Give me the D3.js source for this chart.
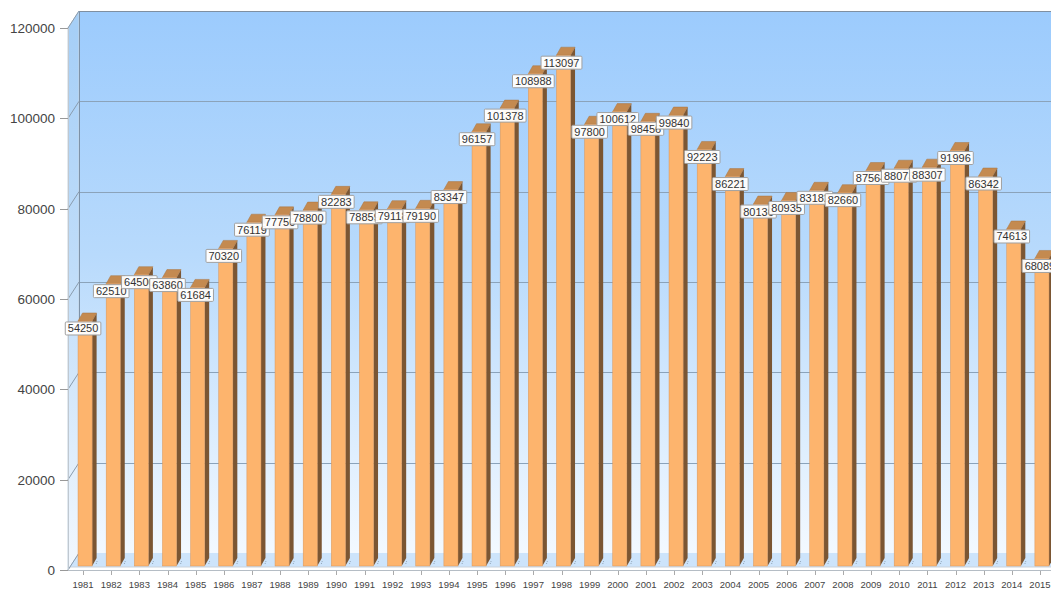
<!DOCTYPE html>
<html>
<head>
<meta charset="utf-8">
<script src="https://cdn.jsdelivr.net/npm/d3@7"></script>
<style>
  html, body { margin: 0; padding: 0; background: #ffffff; }
  svg { display: block; font-family: "Liberation Sans", Arial, sans-serif; }
</style>
</head>
<body>
<svg id="chart" width="1051" height="590"></svg>
<script>
// Yearly values, 1981–2015
const years = ["1981","1982","1983","1984","1985","1986","1987","1988","1989","1990",
  "1991","1992","1993","1994","1995","1996","1997","1998","1999","2000",
  "2001","2002","2003","2004","2005","2006","2007","2008","2009","2010",
  "2011","2012","2013","2014","2015"];
const values = [54250, 62510, 64500, 63860, 61684, 70320, 76119, 77750, 78800, 82283,
  78859, 79118, 79190, 83347, 96157, 101378, 108988, 113097, 97800, 100612,
  98456, 99840, 92223, 86221, 80136, 80935, 83182, 82660, 87564, 88073,
  88307, 91996, 86342, 74613, 68089];
const yTicks = [0, 20000, 40000, 60000, 80000, 100000, 120000];

const svg = d3.select("#chart");

// Front plane of the plot and the oblique depth of the 3D box
const plotLeft = 68, plotRight = 1054, plotTop = 28, plotBottom = 570;
const depthX = 11, depthY = -17;          // full depth of the chart box
const barShiftX = 2, barShiftY = -4;       // bars sit a little behind the front plane
const barDX = 4.5, barDY = -8;             // depth of each bar

const x = d3.scaleBand().domain(years).range([plotLeft + 1, plotRight]).paddingInner(0.5).paddingOuter(0.25);
const y = d3.scaleLinear().domain([0, 120000]).range([plotBottom, plotTop]);

// Gradients for the walls
const defs = svg.append("defs");
const wallGrad = defs.append("linearGradient").attr("id", "wall")
  .attr("gradientUnits", "userSpaceOnUse")
  .attr("x1", 0).attr("y1", plotTop + depthY).attr("x2", 0).attr("y2", plotBottom + depthY);
wallGrad.append("stop").attr("offset", 0).attr("stop-color", "#9ccbfd");
wallGrad.append("stop").attr("offset", 0.45).attr("stop-color", "#b8dafc");
wallGrad.append("stop").attr("offset", 1).attr("stop-color", "#f3f9ff");

const sideGrad = defs.append("linearGradient").attr("id", "side")
  .attr("gradientUnits", "userSpaceOnUse")
  .attr("x1", 0).attr("y1", plotTop).attr("x2", 0).attr("y2", plotBottom);
sideGrad.append("stop").attr("offset", 0).attr("stop-color", "#a6cff7");
sideGrad.append("stop").attr("offset", 0.45).attr("stop-color", "#c0ddf9");
sideGrad.append("stop").attr("offset", 1).attr("stop-color", "#f3f8fe");

const bx = plotLeft + depthX, by0 = y(0) + depthY, byTop = y(120000) + depthY;

// Back wall
svg.append("rect")
  .attr("x", bx).attr("y", byTop)
  .attr("width", 1100 - bx).attr("height", by0 - byTop)
  .attr("fill", "url(#wall)");

// Left side wall
svg.append("path")
  .attr("d", `M${plotLeft},${y(120000)}L${bx},${byTop}L${bx},${by0}L${plotLeft},${y(0)}Z`)
  .attr("fill", "url(#side)")
  .attr("stroke", "#c3d2e0").attr("stroke-width", 1);

// Floor
svg.append("path")
  .attr("d", `M${plotLeft + 2},${y(0) - 3}L${bx},${by0}L${1100},${by0}L${1100},${y(0) - 3}Z`)
  .attr("fill", "#cde4fb");
svg.append("line")
  .attr("x1", plotLeft + 2).attr("x2", 1100)
  .attr("y1", y(0) - 3).attr("y2", y(0) - 3)
  .attr("stroke", "#c9d3dd").attr("stroke-width", 1);

// Gridlines on the back wall and the side wall
const grid = svg.append("g");
yTicks.forEach(v => {
  const yy = Math.round(y(v) + depthY) + 0.5;
  if (v > 0) {
    grid.append("line")
      .attr("x1", bx).attr("x2", 1100).attr("y1", yy).attr("y2", yy)
      .attr("stroke", v === 120000 ? "#7f8fa1" : "#8ba3ba").attr("stroke-width", 1);
  }
  grid.append("line")
    .attr("x1", plotLeft).attr("y1", y(v)).attr("x2", bx).attr("y2", y(v) + depthY)
    .attr("stroke", "#8a9cae").attr("stroke-width", 1);
});
grid.append("line")
  .attr("x1", bx + 0.5).attr("x2", bx + 0.5).attr("y1", byTop).attr("y2", by0)
  .attr("stroke", "#7d92a8").attr("stroke-width", 1);

// Small dots on the floor between bars
const floorDots = svg.append("g");
years.forEach(yr => {
  const c = x(yr) + x.bandwidth() / 2 + x.step() / 2;
  floorDots.append("line")
    .attr("x1", c - 1).attr("y1", y(0) - 6).attr("x2", c).attr("y2", y(0) - 9)
    .attr("stroke", "#8fa3b7").attr("stroke-width", 1).attr("stroke-dasharray", "1,1");
});

// Y axis: left edge, ticks and labels
svg.append("line")
  .attr("x1", plotLeft + 0.5).attr("x2", plotLeft + 0.5).attr("y1", y(120000)).attr("y2", y(0))
  .attr("stroke", "#c0c8d0").attr("stroke-width", 1);
const yAxis = svg.append("g");
yTicks.forEach(v => {
  const yy = Math.round(y(v)) + 0.5;
  yAxis.append("line").attr("x1", plotLeft - 8).attr("x2", plotLeft).attr("y1", yy).attr("y2", yy)
    .attr("stroke", "#999").attr("stroke-width", 1);
  yAxis.append("text")
    .attr("x", 55).attr("y", yy + 4.5)
    .attr("text-anchor", "end")
    .attr("font-size", 13.5).attr("fill", "#444")
    .text(d3.format("d")(v));
});

// X axis line, ticks and year labels
svg.append("line")
  .attr("x1", plotLeft).attr("x2", 1051).attr("y1", plotBottom + 0.5).attr("y2", plotBottom + 0.5)
  .attr("stroke", "#b5bdc5").attr("stroke-width", 1);
const xAxis = svg.append("g");
years.forEach(yr => {
  const c = x(yr) + x.bandwidth() / 2;
  xAxis.append("line").attr("x1", Math.round(c) + 0.5).attr("x2", Math.round(c) + 0.5)
    .attr("y1", plotBottom + 1).attr("y2", plotBottom + 5)
    .attr("stroke", "#aaa").attr("stroke-width", 1);
  xAxis.append("text")
    .attr("x", c).attr("y", 588)
    .attr("text-anchor", "middle")
    .attr("font-size", 9.5).attr("fill", "#444")
    .text(yr);
});

// 3D bars: front, right side and top faces
const bars = svg.append("g");
years.forEach((yr, i) => {
  const v = values[i];
  const x0 = x(yr) + barShiftX, x1 = x0 + x.bandwidth();
  const yt = y(v) + barShiftY, yb = y(0) + barShiftY;
  const g = bars.append("g");
  // side
  g.append("path")
    .attr("d", `M${x1},${yt}L${x1 + barDX},${yt + barDY}L${x1 + barDX},${yb + barDY}L${x1},${yb}Z`)
    .attr("fill", "#7b5633");
  // top
  g.append("path")
    .attr("d", `M${x0},${yt}L${x0 + barDX},${yt + barDY}L${x1 + barDX},${yt + barDY}L${x1},${yt}Z`)
    .attr("fill", "#c48a50").attr("stroke", "#a87540").attr("stroke-width", 0.5);
  // front
  g.append("rect")
    .attr("x", x0).attr("y", yt).attr("width", x1 - x0).attr("height", yb - yt)
    .attr("fill", "#fdb46d").attr("stroke", "#d9965a").attr("stroke-width", 0.5);
});

// Value labels
const labels = svg.append("g");
years.forEach((yr, i) => {
  const v = values[i];
  const c = x(yr) + x.bandwidth() / 2;
  const cy = y(v) + 3.5;
  const g = labels.append("g");
  const t = g.append("text")
    .attr("x", c).attr("y", cy + 4)
    .attr("text-anchor", "middle")
    .attr("font-size", 11).attr("fill", "#333")
    .text(v);
  const w = t.node().getComputedTextLength() + 5;
  g.insert("rect", "text")
    .attr("x", c - w / 2).attr("y", cy - 6.5)
    .attr("width", w).attr("height", 13)
    .attr("rx", 1)
    .attr("fill", "#ffffff").attr("fill-opacity", 0.95)
    .attr("stroke", "#a0a0a0").attr("stroke-width", 1);
});
</script>
</body>
</html>
